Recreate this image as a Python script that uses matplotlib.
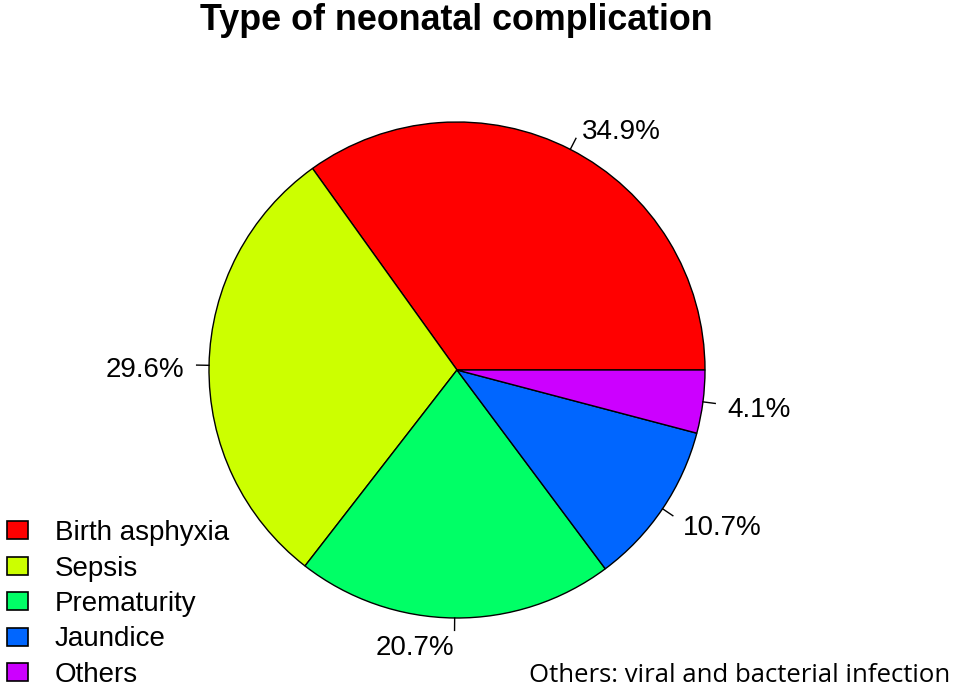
import matplotlib.pyplot as plt
import numpy as np
from matplotlib.patches import Rectangle

# chart values
categories = ["Birth asphyxia", "Sepsis", "Prematurity", "Jaundice", "Others"]
percents = [34.9, 29.6, 20.7, 10.7, 4.1]
labels = ["34.9%", "29.6%", "20.7%", "10.7%", "4.1%"]
colors = ["#FF0000", "#CCFF00", "#00FF66", "#0066FF", "#CC00FF"]

W, H = 957, 693
fig = plt.figure(figsize=(W / 100, H / 100), dpi=100)
ax = fig.add_axes([0, 0, 1, 1])
ax.set_axis_off()

cx, cy, r = 457, H - 370, 248
wedges, _ = ax.pie(percents, colors=colors, startangle=0, counterclock=True,
                   center=(cx, cy), radius=r,
                   wedgeprops=dict(edgecolor="black", linewidth=1))
ax.set_xlim(0, W)
ax.set_ylim(0, H)
ax.set_aspect("equal")

# R style labels: tick from r to 1.05r, text at 1.1r
frac = np.cumsum([0] + percents) / sum(percents)
for i, lab in enumerate(labels):
    a = 2 * np.pi * (frac[i] + frac[i + 1]) / 2
    c, s = np.cos(a), np.sin(a)
    ax.plot([cx + r * c, cx + 1.05 * r * c], [cy + r * s, cy + 1.05 * r * s],
            color="black", lw=1)
    ax.text(cx + 1.1 * r * c, cy + 1.1 * r * s - 5, lab, fontsize=20,
            family="Liberation Sans", ha="right" if c < 0 else "left", va="center")

ax.text(456, H - 20, "Type of neonatal complication", fontsize=25.8,
        fontweight="bold", family="Liberation Sans", ha="center", va="center")

# legend, drawn like R's legend()
for i, (cat, col) in enumerate(zip(categories, colors)):
    y = H - (530 + 35.5 * i)
    ax.add_patch(Rectangle((7, y - 9), 21, 18, facecolor=col, edgecolor="black", lw=1.2))
    ax.text(55, y - 3, cat, fontsize=20, family="Liberation Sans", ha="left", va="center")

ax.text(950, H - 676, "Others: viral and bacterial infection", fontsize=18.5,
        family="Open Sans", ha="right", va="center")

fig.savefig("out.png", dpi=100)
